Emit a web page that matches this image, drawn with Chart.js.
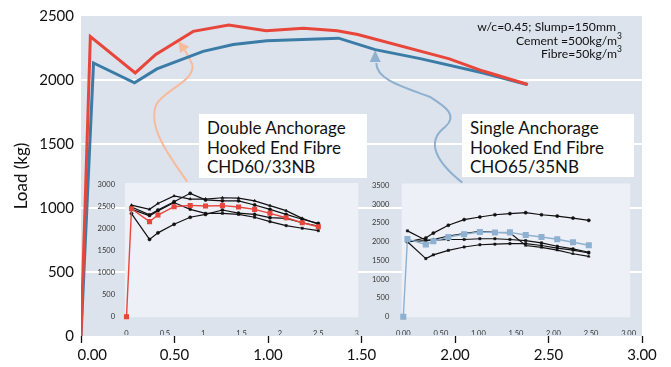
<!DOCTYPE html>
<html><head><meta charset="utf-8">
<script src="https://cdn.jsdelivr.net/npm/chart.js@4.4.0/dist/chart.umd.min.js"></script>
<style>
html,body{margin:0;padding:0;background:#fff;}
#wrap{position:relative;width:671px;height:367px;overflow:hidden;font-family:Lato,'Open Sans',sans-serif;}
canvas{position:absolute;}
.box{position:absolute;background:#fff;color:#111;font-size:17px;line-height:19.5px;padding:4px 0 0 8px;box-sizing:border-box;white-space:nowrap;}
.note{position:absolute;right:49px;top:20px;text-align:right;font-size:12.2px;line-height:13.5px;color:#111;white-space:nowrap;}
.note sup{font-size:8.5px;line-height:0;vertical-align:6px;}
</style></head>
<body><div id="wrap">
<canvas id="main" width="671" height="367" style="left:0;top:0"></canvas>
<canvas id="insL" width="275" height="160" style="left:90px;top:175px"></canvas>
<canvas id="insR" width="275" height="160" style="left:365px;top:175px"></canvas>
<div class="box" style="left:199px;top:114px;width:168px;height:64px">Double Anchorage<br>Hooked End Fibre<br>CHD60/33NB</div>
<div class="box" style="left:462px;top:114px;width:172px;height:63px">Single Anchorage<br>Hooked End Fibre<br>CHO65/35NB</div>
<div class="note"><div style="padding-right:6px">w/c=0.45; Slump=150mm</div><div>Cement =500kg/m<sup>3</sup></div><div>Fibre=50kg/m<sup>3</sup></div></div>
</div>
<script>
// ---- main chart data ----
const redX  = [0, 0.05, 0.29, 0.40, 0.60, 0.79, 0.99, 1.19, 1.37, 1.48, 1.97, 2.15, 2.39];
const redY  = [0, 2340, 2055, 2200, 2380, 2430, 2385, 2405, 2385, 2355, 2165, 2070, 1965];
const blueX = [0, 0.067, 0.286, 0.406, 0.653, 0.814, 0.994, 1.377, 1.573, 1.814, 2.152, 2.385];
const blueY = [0, 2133, 1978, 2087, 2224, 2278, 2307, 2327, 2237, 2167, 2055, 1965];

// ---- left inset (double anchorage) ----
const leftX   = [0, 0.065, 0.30, 0.41, 0.62, 0.83, 1.03, 1.25, 1.46, 1.67, 1.87, 2.08, 2.29, 2.50];
const leftRed = [0, 2460, 2165, 2315, 2505, 2535, 2520, 2530, 2500, 2445, 2355, 2255, 2140, 2050];
const leftA   = [null, 2540, 2445, 2580, 2750, 2680, 2680, 2710, 2700, 2640, 2530, 2415, 2240, 2105];
const leftB   = [null, 2500, 2320, 2430, 2620, 2810, 2660, 2640, 2640, 2545, 2445, 2330, 2220, 2125];
const leftC   = [null, 2450, 2300, 2410, 2600, 2445, 2355, 2355, 2330, 2265, 2165, 2075, 2015, 1960];
const leftD   = [null, 2350, 1760, 1910, 2105, 2265, 2330, 2430, 2360, 2330, 2255, 2240, 2140, 2065];

// ---- right inset (single anchorage) ----
const rightX    = [0, 0.055, 0.30, 0.40, 0.60, 0.81, 1.02, 1.22, 1.42, 1.63, 1.84, 2.05, 2.26, 2.47];
const rightBlue = [0, 2070, 1925, 2015, 2125, 2200, 2260, 2245, 2250, 2180, 2125, 2065, 1985, 1905];
const rightT    = [null, 2000, 2100, 2230, 2440, 2590, 2660, 2720, 2750, 2775, 2720, 2685, 2630, 2570];
const rightH    = [null, 2290, 2040, 2045, 2060, 2060, 2080, 2080, 2060, 2030, 1970, 1880, 1810, 1720];
const rightM    = [null, 2000, 2030, 2060, 2150, 2220, 2280, 2250, 2240, 1900, 1850, 1775, 1680, 1610];
const rightL    = [null, 2000, 1550, 1650, 1770, 1860, 1920, 1935, 1950, 1950, 1900, 1830, 1775, 1700];

// ---- annotation arrows (data units) ----
const peachPath = [[0.568,1206],[0.450,1447],[0.359,1642],[0.402,1805],[0.434,1914],[0.616,1992],[0.595,2124],[0.555,2234]];
const peachHead = [[0.520,2303],[0.579,2259],[0.530,2209]];
const bluePath  = [[2.039,1198],[1.857,1408],[1.867,1548],[1.948,1634],[2.017,1727],[1.950,1789],[1.867,1867],[1.707,1953],[1.579,2007],[1.579,2132]];
const blueHead  = [[1.573,2233],[1.544,2140],[1.603,2140]];

const FONT = "Lato, 'Open Sans', sans-serif";
const pts = (xs, ys) => xs.map((x, i) => ({x, y: ys[i]}));

const bgPlugin = {
  id: 'bg',
  beforeDraw(chart, args, opts) {
    const {ctx, chartArea: a} = chart;
    ctx.save();
    ctx.fillStyle = opts.color;
    const p = opts.pad || [0,0,0,0];
    ctx.fillRect(a.left - p[3], a.top - p[0], a.right - a.left + p[1] + p[3], a.bottom - a.top + p[0] + p[2]);
    ctx.restore();
  }
};

const arrowPlugin = {
  id: 'arrows',
  beforeDatasetsDraw(chart) {
    const {ctx, scales: {x, y}} = chart;
    const P = p => [x.getPixelForValue(p[0]), y.getPixelForValue(p[1])];
    function draw(path, head, color) {
      const q = path.map(P);
      ctx.save();
      ctx.strokeStyle = color; ctx.fillStyle = color; ctx.lineWidth = 2; ctx.lineJoin = 'round';
      ctx.beginPath();
      ctx.moveTo(q[0][0], q[0][1]);
      let i = 1;
      while (i + 2 < q.length) {
        ctx.bezierCurveTo(q[i][0], q[i][1], q[i+1][0], q[i+1][1], q[i+2][0], q[i+2][1]);
        i += 3;
      }
      for (; i < q.length; i++) ctx.lineTo(q[i][0], q[i][1]);
      ctx.stroke();
      const h = head.map(P);
      ctx.beginPath();
      ctx.moveTo(h[0][0], h[0][1]); ctx.lineTo(h[1][0], h[1][1]); ctx.lineTo(h[2][0], h[2][1]);
      ctx.closePath(); ctx.fill();
      ctx.restore();
    }
    draw(peachPath, peachHead, '#f7bb9c');
    draw(bluePath, blueHead, '#8fb0cf');
  }
};

new Chart(document.getElementById('main'), {
  type: 'line',
  data: {datasets: [
    {data: pts(redX, redY), borderColor: '#e8463b', borderWidth: 3, pointRadius: 0, tension: 0},
    {data: pts(blueX, blueY), borderColor: '#3b7ca6', borderWidth: 3, pointRadius: 0, tension: 0}
  ]},
  options: {
    responsive: false, animation: false, devicePixelRatio: 1,
    layout: {padding: {top: 14, right: 29, left: 0, bottom: 0}},
    plugins: {legend: {display: false}, tooltip: {enabled: false}, bg: {color: '#dce3ed'}},
    scales: {
      x: {type: 'linear', min: 0, max: 3,
        afterFit(s) { s.height = 31; },
        ticks: {stepSize: 0.5, autoSkip: false, maxRotation: 0, padding: 3, color: '#111',
          font: {family: FONT, size: 15},
          callback: v => v === 0 ? '\u2003\u20030.00' : v.toFixed(2)},
        grid: {drawOnChartArea: false, drawTicks: true, tickLength: 7, tickColor: '#111', tickWidth: 1.3},
        border: {display: false}},
      y: {min: 0, max: 2500,
        afterFit(s) { s.width = 81; },
        ticks: {stepSize: 500, padding: 7, color: '#111', font: {family: FONT, size: 15}, callback: v => String(v)},
        grid: {color: c => (c.tick && (c.tick.value === 0 || c.tick.value === 2500)) ? 'rgba(0,0,0,0)' : '#ffffff', lineWidth: 2, drawTicks: false},
        border: {display: false},
        title: {display: true, text: 'Load (kg)', color: '#111', font: {family: FONT, size: 17}, padding: {top: 11, bottom: 0}}}
    }
  },
  plugins: [bgPlugin, arrowPlugin]
});

function blackSet(xs, ys, style) {
  return {data: pts(xs, ys), borderColor: '#111', backgroundColor: '#111', borderWidth: 1.2,
    pointStyle: style, pointRadius: 1.6, pointBorderWidth: 0.5, tension: 0, clip: false};
}

function inset(id, datasets, ymax, xfmt, ylabelPad) {
  new Chart(document.getElementById(id), {
    type: 'line',
    data: {datasets},
    options: {
      responsive: false, animation: false, devicePixelRatio: 1,
      layout: {padding: {top: 10, right: 8.3, left: 0, bottom: 0}},
      plugins: {legend: {display: false}, tooltip: {enabled: false}, bg: {color: '#edf0f7', pad: [2, 1.6, 0.5, 1.6]}},
      scales: {
        x: {type: 'linear', min: 0, max: 3,
          afterFit(s) { s.height = 18.3; },
          ticks: {stepSize: 0.5, autoSkip: false, maxRotation: 0, padding: 4, color: '#333',
            font: {family: FONT, size: 7.5}, callback: xfmt},
          grid: {display: false}, border: {display: false}},
        y: {min: 0, max: ymax,
          afterFit(s) { s.width = id === 'insL' ? 36.5 : 38.3; },
          ticks: {stepSize: 500, padding: ylabelPad, color: '#333', font: {family: FONT, size: 7.5}, callback: v => String(v)},
          grid: {display: false}, border: {display: false}}
      }
    },
    plugins: [bgPlugin]
  });
}

inset('insL', [
  {data: pts(leftX, leftRed), borderColor: '#e8463b', backgroundColor: '#e8463b', borderWidth: 1.4,
    pointStyle: 'rect', pointRadius: 2.6, tension: 0, clip: false},
  blackSet(leftX, leftA, 'triangle'),
  blackSet(leftX, leftB, 'circle'),
  blackSet(leftX, leftC, 'rect'),
  blackSet(leftX, leftD, 'circle')
], 3000, v => String(v), 3.5);

inset('insR', [
  {data: pts(rightX, rightBlue), borderColor: '#8fb1d1', backgroundColor: '#8fb1d1', borderWidth: 1.4,
    pointStyle: 'rect', pointRadius: 3.3, tension: 0, clip: false},
  blackSet(rightX, rightT, 'circle'),
  blackSet(rightX, rightH, 'rect'),
  blackSet(rightX, rightM, 'triangle'),
  blackSet(rightX, rightL, 'rect')
], 3500, v => v.toFixed(2), 6);
</script>
</body></html>
